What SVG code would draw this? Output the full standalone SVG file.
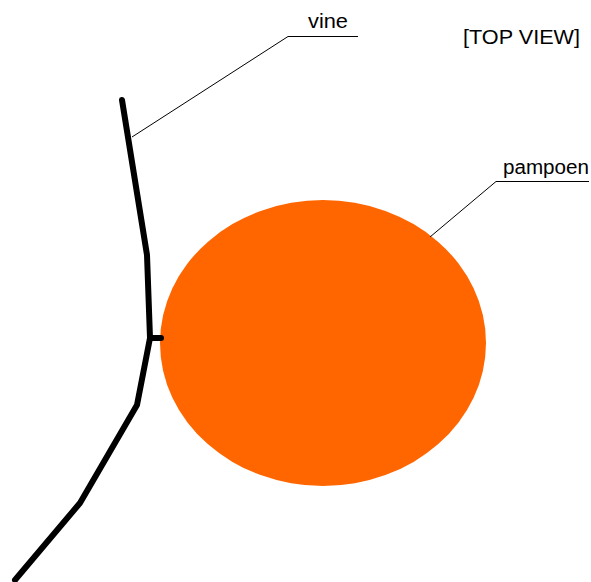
<svg xmlns="http://www.w3.org/2000/svg" width="591" height="582" viewBox="0 0 591 582">
<style>
.lbl{font-family:"Liberation Sans",Arial,sans-serif;font-size:20px;fill:#000}
.lead{fill:none;stroke:#000;stroke-width:1}
.vine{fill:none;stroke:#000;stroke-width:6;stroke-linejoin:round;stroke-linecap:round}
</style>
<rect width="591" height="582" fill="#fff"/>
<g id="pumpkin">
<ellipse cx="323" cy="343" rx="163" ry="143" fill="#ff6600"/>
</g>
<g id="vine">
<path class="vine" d="M122,100 L147,255 L150,338 L137,405 L80,503 L15,580"/>
<path class="vine" d="M150,338 L161,338" stroke-linecap="butt"/>
</g>
<g id="connectors">
<path class="lead" d="M132,137 L288,36.5 L358,36.5"/>
<path class="lead" d="M430,237 L496,181.5 L589,181.5"/>
</g>
<g id="label-vine"><text class="lbl" x="308" y="28" textLength="40" lengthAdjust="spacingAndGlyphs">vine</text></g>
<g id="label-pampoen"><text class="lbl" x="503" y="174" textLength="86" lengthAdjust="spacingAndGlyphs">pampoen</text></g>
<g id="label-topview"><text class="lbl" x="463" y="44" textLength="117" lengthAdjust="spacingAndGlyphs">[TOP VIEW]</text></g>
</svg>
